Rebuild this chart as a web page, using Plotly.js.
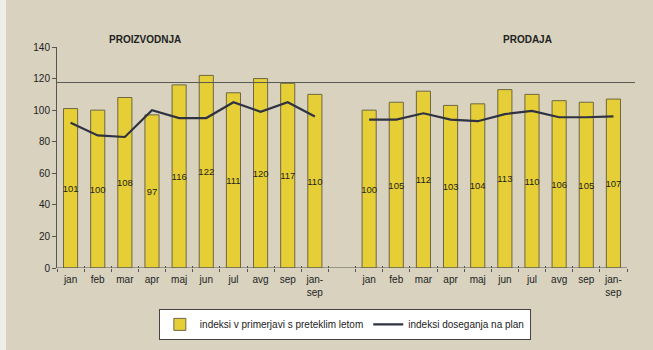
<!DOCTYPE html>
<html>
<head>
<meta charset="utf-8">
<script src="https://cdn.plot.ly/plotly-3.0.1.min.js"></script>
<style>html,body{margin:0;padding:0;background:#d8d2be;}#chart{width:653px;height:350px;}</style>
</head>
<body>
<div id="chart"></div>
<script>
// ---- data ----
const months = ['jan','feb','mar','apr','maj','jun','jul','avg','sep','jan-<br>sep'];
const groupTitles = ['PROIZVODNJA','PRODAJA'];
const proizvodnjaIndex = [101,100,108,97,116,122,111,120,117,110];
const prodajaIndex = [100,105,112,103,104,113,110,106,105,107];
const proizvodnjaPlan = [92,84,83,100,95,95,105,99,105,96];
const prodajaPlan = [94,94,98,94,93,97.5,99.5,95.5,95.5,96];
const planLevel = 117.5;
const seriesNames = ['indeksi v primerjavi s preteklim letom','indeksi doseganja na plan'];
const yTicks = [0,20,40,60,80,100,120,140];

// ---- build combined axis (one blank slot between the two groups) ----
const barVals = proizvodnjaIndex.concat([null], prodajaIndex);
const lineVals = proizvodnjaPlan.concat([null], prodajaPlan);
const labels = months.concat([''], months);
const xs = labels.map((_, i) => i);
const bounds = [];
for (let i = 0; i <= labels.length; i++) bounds.push(i - 0.5);
const xr = [-0.5, labels.length - 0.5];

const font = 'Liberation Sans, Arial, sans-serif';

const traces = [
  {
    type: 'bar', x: xs, y: barVals, name: seriesNames[0],
    width: 0.52,
    marker: {color: '#e6cf36', line: {color: '#6e6743', width: 1}},
    text: barVals.map(v => v == null ? '' : String(v)),
    textposition: 'inside', insidetextanchor: 'middle',
    textangle: 0, constraintext: 'none',
    textfont: {family: font, size: 9.5, color: '#1e1e1e'},
    hoverinfo: 'skip'
  },
  {
    type: 'scatter', mode: 'lines', x: xs, y: lineVals, name: seriesNames[1],
    connectgaps: false,
    line: {color: '#2f3242', width: 2.2},
    hoverinfo: 'skip'
  },
  {type: 'scatter', x: [0], y: [0], xaxis: 'x2', mode: 'markers', marker: {opacity: 0}, showlegend: false, hoverinfo: 'skip'},
  {type: 'scatter', x: [0], y: [0], xaxis: 'x3', mode: 'markers', marker: {opacity: 0}, showlegend: false, hoverinfo: 'skip'}
];

const layout = {
  width: 653, height: 350,
  margin: {l: 57, r: 26, t: 47, b: 82, autoexpand: false},
  paper_bgcolor: '#d8d2be',
  plot_bgcolor: 'rgba(0,0,0,0)',
  font: {family: font, size: 10, color: '#222'},
  showlegend: true,
  xaxis: {
    range: xr, tickvals: xs, ticktext: labels, ticks: '',
    showgrid: false, zeroline: false, showline: false,
    tickfont: {family: font, size: 10, color: '#222'}, ticklabelstandoff: 4
  },
  xaxis2: {
    overlaying: 'x', anchor: 'y', range: xr, tickvals: bounds, ticks: 'outside',
    ticklen: 3, tickcolor: '#555', showticklabels: false, showgrid: false, zeroline: false, showline: false
  },
  xaxis3: {
    overlaying: 'x', anchor: 'y', range: xr, tickvals: bounds, ticks: 'inside',
    ticklen: 2, tickcolor: '#555', showticklabels: false, showgrid: false, zeroline: false, showline: false
  },
  yaxis: {
    range: [0, 140], tickvals: yTicks, ticks: 'outside', ticklen: 4, tickcolor: '#555',
    showline: true, linecolor: '#555', linewidth: 1, showgrid: false, zeroline: false,
    tickfont: {family: font, size: 10, color: '#222'}
  },
  shapes: [
    {type: 'rect', xref: 'paper', yref: 'paper', x0: -57/570, x1: -51/570, y0: -82/221, y1: 1 + 47/221,
     fillcolor: '#eeeee8', line: {width: 0}, layer: 'below'},
    {type: 'line', xref: 'x', yref: 'y', x0: xr[0], x1: xr[1], y0: 0, y1: 0, line: {color: '#555', width: 1}},
    {type: 'line', xref: 'paper', yref: 'y', x0: 0, x1: 1.014, y0: planLevel, y1: planLevel, line: {color: '#5a5a55', width: 1}}
  ],
  annotations: [
    {text: '<b>' + groupTitles[0] + '</b>', xref: 'paper', yref: 'paper', x: 0.154, y: 1.032,
     xanchor: 'center', yanchor: 'middle',
     showarrow: false, font: {family: font, size: 10, color: '#222'}},
    {text: '<b>' + groupTitles[1] + '</b>', xref: 'paper', yref: 'paper', x: 0.826, y: 1.032,
     xanchor: 'center', yanchor: 'middle',
     showarrow: false, font: {family: font, size: 10, color: '#222'}}
  ],
  legend: {
    orientation: 'h', x: 0.505, xanchor: 'center', y: -0.185, yanchor: 'top',
    bgcolor: '#ffffff', bordercolor: '#444', borderwidth: 1,
    font: {family: font, size: 10, color: '#222'},
    itemwidth: 30, tracegroupgap: 0
  }
};

Plotly.newPlot('chart', traces, layout, {displayModeBar: false, staticPlot: true});
</script>
</body>
</html>
